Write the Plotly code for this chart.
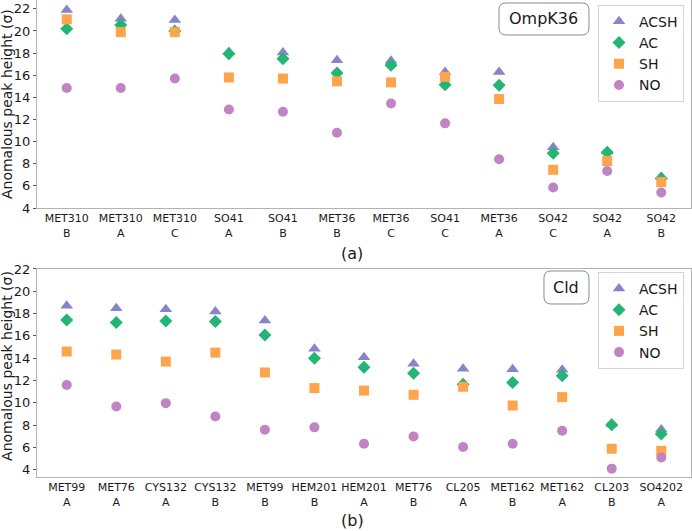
import plotly.graph_objects as go
from plotly.subplots import make_subplots

# ---------------- data ----------------
omp_labels = ["MET310<br>B", "MET310<br>A", "MET310<br>C", "SO41<br>A", "SO41<br>B", "MET36<br>B",
              "MET36<br>C", "SO41<br>C", "MET36<br>A", "SO42<br>C", "SO42<br>A", "SO42<br>B"]
omp_acsh = [21.9, 21.1, 21.0, 18.1, 18.05, 17.35, 17.3, 16.3, 16.3, 9.5, 9.1, 6.8]
omp_ac   = [20.2, 20.55, 20.0, 17.95, 17.5, 16.2, 16.9, 15.15, 15.1, 8.95, 9.05, 6.7]
omp_sh   = [21.05, 19.9, 19.9, 15.8, 15.7, 15.45, 15.35, 15.85, 13.85, 7.45, 8.25, 6.35]
omp_no   = [14.85, 14.85, 15.7, 12.9, 12.7, 10.8, 13.45, 11.65, 8.4, 5.85, 7.35, 5.4]

cld_labels = ["MET99<br>A", "MET76<br>A", "CYS132<br>A", "CYS132<br>B", "MET99<br>B", "HEM201<br>B",
              "HEM201<br>A", "MET76<br>B", "CL205<br>A", "MET162<br>B", "MET162<br>A", "CL203<br>B",
              "SO4202<br>A"]
cld_acsh = [18.7, 18.48, 18.39, 18.18, 17.37, 14.84, 14.09, 13.5, 13.05, 13.02, 12.96, 8.1, 7.6]
cld_ac   = [17.43, 17.2, 17.34, 17.3, 16.09, 14.0, 13.2, 12.66, 11.67, 11.82, 12.42, 8.03, 7.2]
cld_sh   = [14.6, 14.33, 13.7, 14.5, 12.72, 11.32, 11.1, 10.72, 11.44, 9.76, 10.51, 5.88, 5.7]
cld_no   = [11.6, 9.67, 9.97, 8.78, 7.59, 7.8, 6.33, 6.99, 6.04, 6.33, 7.5, 4.1, 5.1]

y_ticks = [4, 6, 8, 10, 12, 14, 16, 18, 20, 22]
series_names = ["ACSH", "AC", "SH", "NO"]

# ---------------- styles ----------------
styles = {
    "ACSH": dict(symbol="triangle-up", color="#8585c9", size=11),
    "AC":   dict(symbol="diamond", color="#22b576", size=10),
    "SH":   dict(symbol="square", color="#fda44c", size=10),
    "NO":   dict(symbol="circle", color="#c083c3", size=10),
}

fig = make_subplots(rows=2, cols=1, vertical_spacing=0.128)

top_series = dict(zip(series_names, [omp_acsh, omp_ac, omp_sh, omp_no]))
bot_series = dict(zip(series_names, [cld_acsh, cld_ac, cld_sh, cld_no]))

for name in series_names:
    st = styles[name]
    fig.add_trace(go.Scatter(
        x=list(range(len(omp_labels))), y=top_series[name], mode="markers", name=name,
        marker=dict(symbol=st["symbol"], color=st["color"], size=st["size"], line=dict(width=0)),
        legend="legend"), row=1, col=1)
for name in series_names:
    st = styles[name]
    fig.add_trace(go.Scatter(
        x=list(range(len(cld_labels))), y=bot_series[name], mode="markers", name=name,
        marker=dict(symbol=st["symbol"], color=st["color"], size=st["size"], line=dict(width=0)),
        legend="legend2"), row=2, col=1)

axis_common = dict(showline=True, mirror=True, linecolor="#b3b3b3", linewidth=1,
                   showgrid=False, zeroline=False, automargin=False)

fig.update_xaxes(axis_common)
fig.update_yaxes(axis_common)

fig.update_layout(
    xaxis=dict(domain=[0, 1], range=[-0.55, 11.55], tickmode="array",
               tickvals=list(range(len(omp_labels))), ticktext=omp_labels,
               ticks="", tickfont=dict(size=11, color="#1a1a1a")),
    xaxis2=dict(domain=[0, 1], range=[-0.6, 12.6], tickmode="array",
                tickvals=list(range(len(cld_labels))), ticktext=cld_labels,
                ticks="", tickfont=dict(size=11, color="#1a1a1a")),
    yaxis=dict(domain=[0.5639, 1.0], range=[4, 22.8], tickvals=y_ticks,
               ticks="outside", ticklen=3, tickcolor="#555555",
               tickfont=dict(size=13, color="#1a1a1a")),
    yaxis2=dict(domain=[0, 0.4361], range=[3.35, 22.0], tickvals=y_ticks,
                ticks="outside", ticklen=3, tickcolor="#555555",
                tickfont=dict(size=13, color="#1a1a1a")),
)

legend_common = dict(bgcolor="rgba(255,255,255,0.9)", bordercolor="#d5d5d5", borderwidth=1,
                     font=dict(family="DejaVu Sans", size=14, color="#1a1a1a"),
                     xanchor="right", yanchor="top", tracegroupgap=0)
fig.update_layout(
    legend=dict(legend_common, x=0.9893, y=0.99),
    legend2=dict(legend_common, x=0.9893, y=0.43),
)

def rounded_box(x0, x1, y0, y1, rx, ry):
    return (f"M {x0+rx},{y0} L {x1-rx},{y0} Q {x1},{y0} {x1},{y0+ry} "
            f"L {x1},{y1-ry} Q {x1},{y1} {x1-rx},{y1} L {x0+rx},{y1} "
            f"Q {x0},{y1} {x0},{y1-ry} L {x0},{y0+ry} Q {x0},{y0} {x0+rx},{y0} Z")

rx = 7 / 654
ry = 7 / 208
fig.add_shape(type="path", xref="x domain", yref="y domain",
              path=rounded_box(0.7064, 0.8440, 0.8317, 0.9856, rx, ry),
              line=dict(color="#8a8a8a", width=1), fillcolor="white")
fig.add_shape(type="path", xref="x2 domain", yref="y2 domain",
              path=rounded_box(0.7752, 0.8440, 0.8317, 0.9904, rx, ry),
              line=dict(color="#8a8a8a", width=1), fillcolor="white")

ann_common = dict(showarrow=False, xanchor="center", yanchor="middle")
fig.add_annotation(ann_common, text="OmpK36", xref="x domain", yref="y domain", x=0.7752, y=0.9087,
                   font=dict(size=16, color="#1a1a1a"))
fig.add_annotation(ann_common, text="Cld", xref="x2 domain", yref="y2 domain", x=0.8096, y=0.911,
                   font=dict(size=16, color="#1a1a1a"))

fig.add_annotation(ann_common, text="(a)", xref="paper", yref="paper", x=0.4817, y=0.4696,
                   font=dict(size=16, color="#1a1a1a"))
fig.add_annotation(ann_common, text="(b)", xref="paper", yref="paper", x=0.4817, y=-0.0912,
                   font=dict(size=16, color="#1a1a1a"))

fig.add_annotation(ann_common, text="Anomalous peak height (σ)", xref="paper", yref="paper",
                   x=-0.0458, y=0.782, textangle=-90, font=dict(size=14, color="#1a1a1a"))
fig.add_annotation(ann_common, text="Anomalous peak height (σ)", xref="paper", yref="paper",
                   x=-0.0458, y=0.233, textangle=-90, font=dict(size=14, color="#1a1a1a"))

fig.update_layout(
    width=692, height=531,
    margin=dict(l=37, r=1, t=0, b=54, autoexpand=False),
    paper_bgcolor="white", plot_bgcolor="white",
    font=dict(family="DejaVu Sans", color="#1a1a1a"),
    showlegend=True,
)

fig.write_html("out.html", config={"displayModeBar": False},
               post_script="document.body.style.margin='0';document.body.style.overflow='hidden';")
